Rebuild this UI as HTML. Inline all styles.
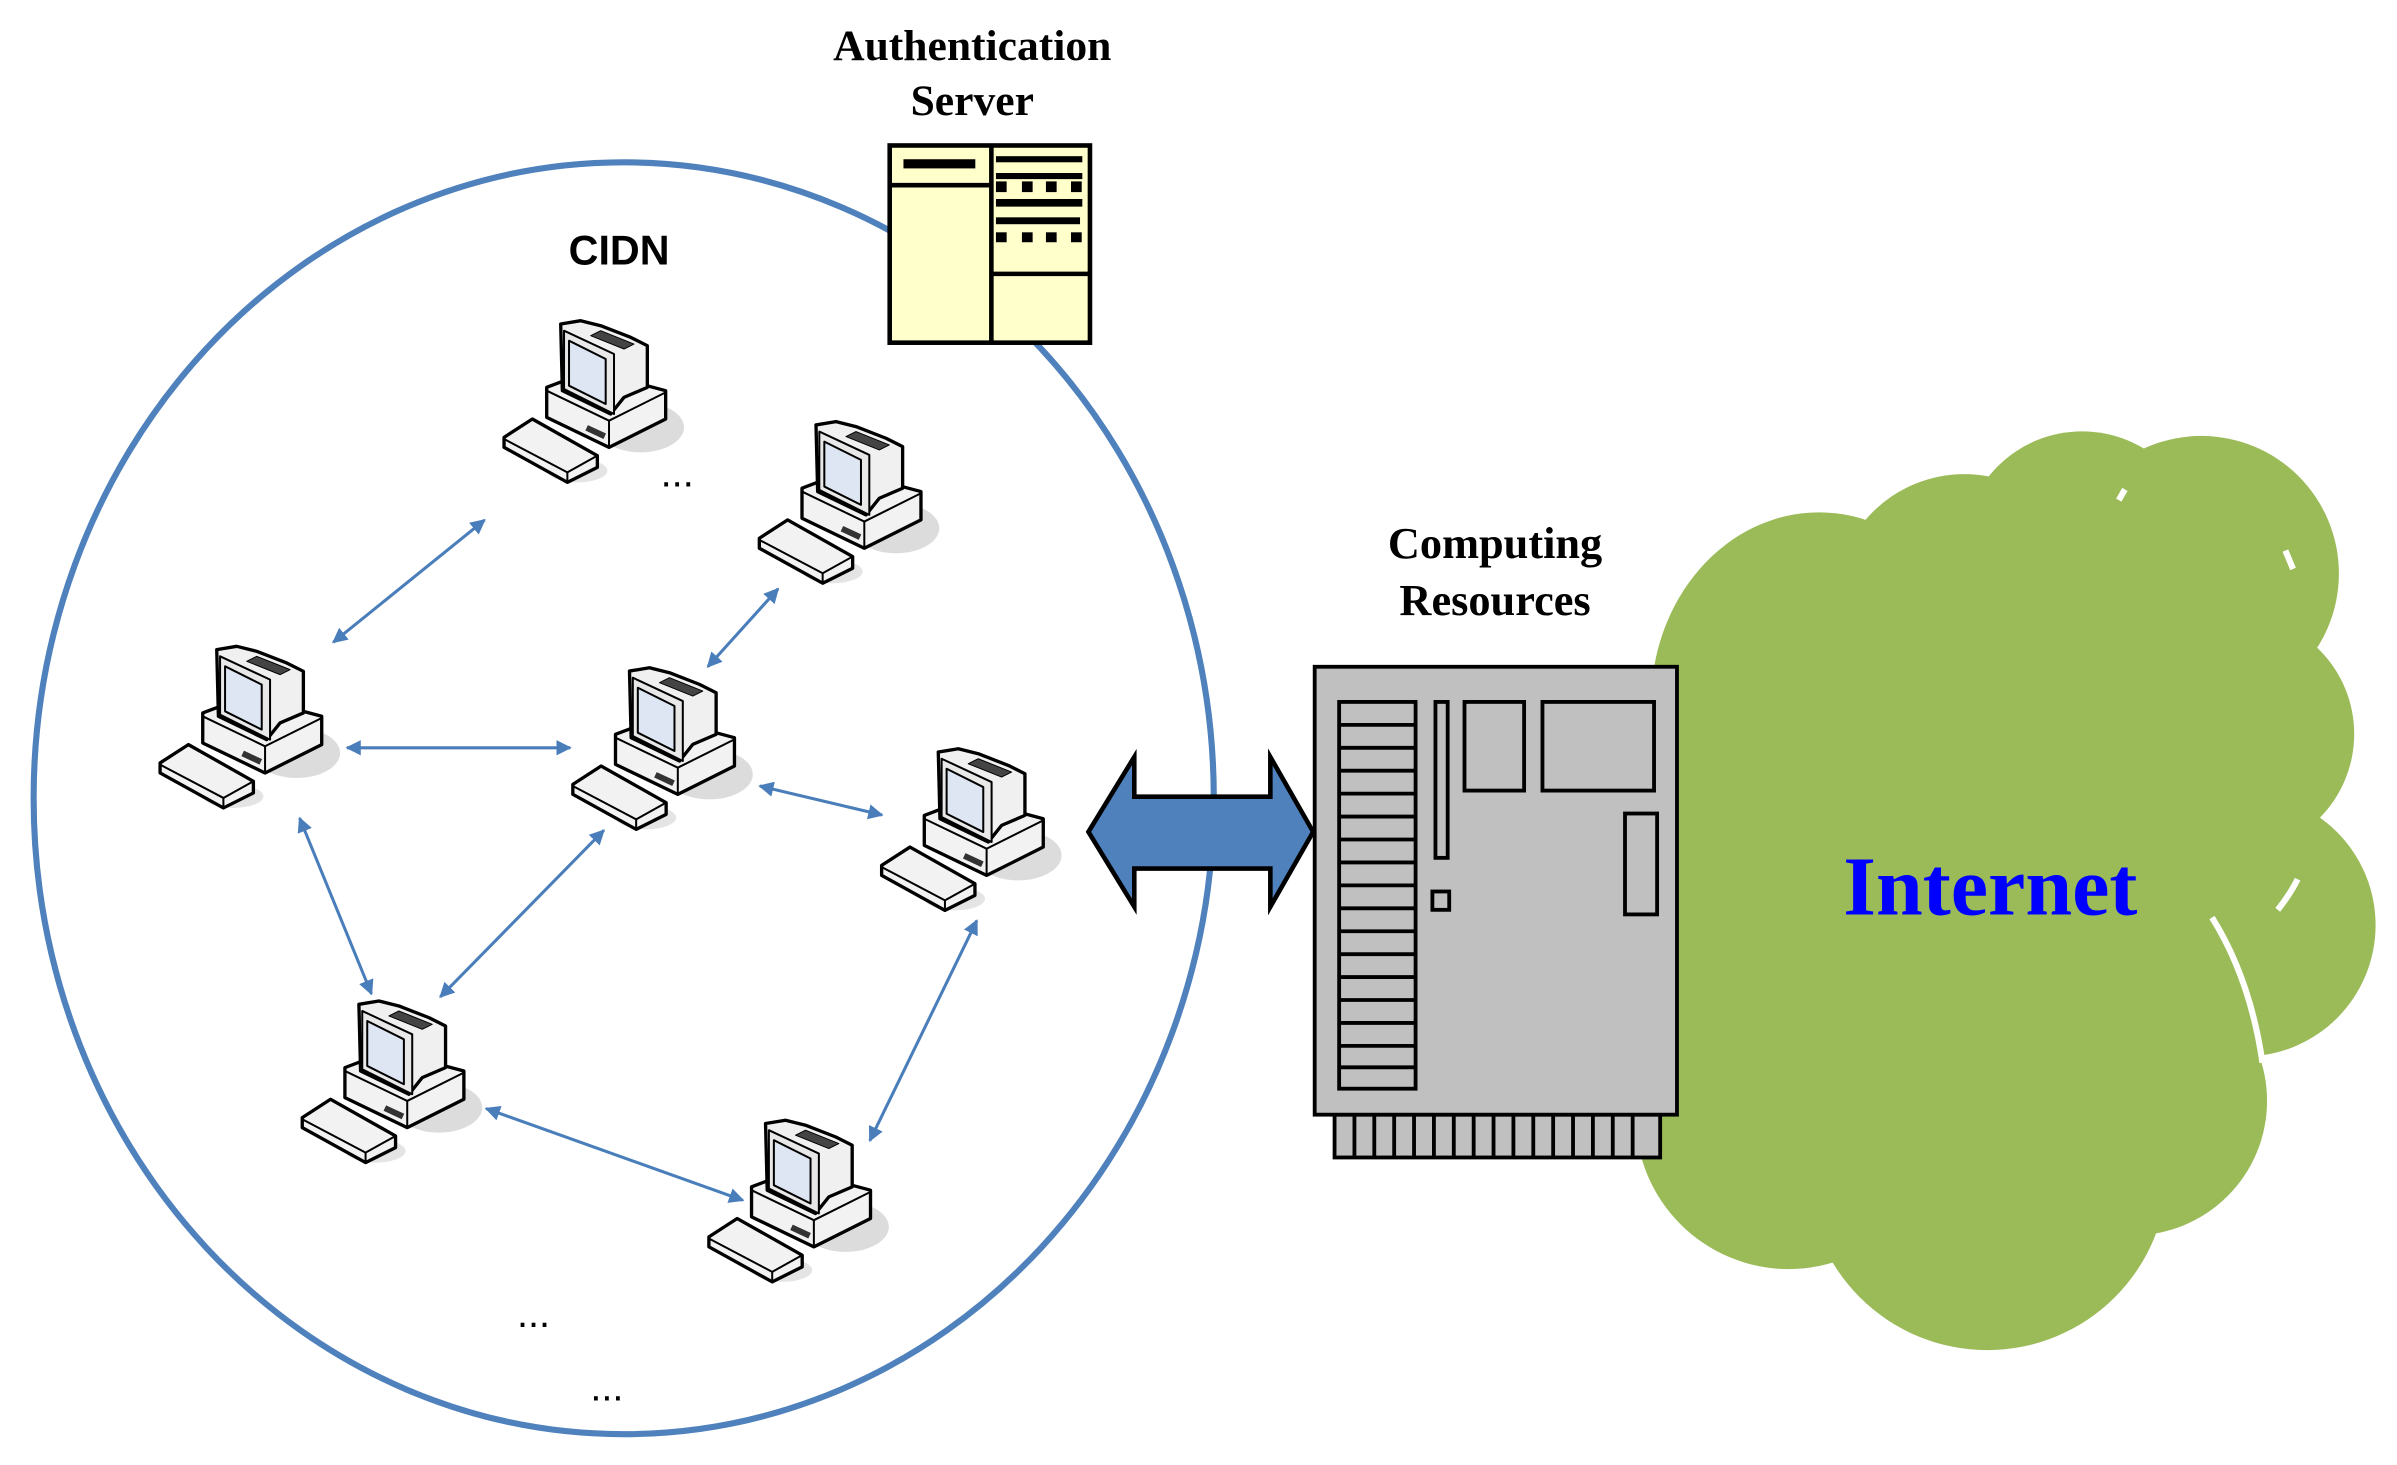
<!DOCTYPE html>
<html><head><meta charset="utf-8"><style>html,body{margin:0;padding:0;background:#fff}svg{display:block}</style></head>
<body>
<svg width="2397" height="1465" viewBox="0 0 1568 958" xmlns="http://www.w3.org/2000/svg">
<defs>
<marker id="ah" viewBox="0 0 10 10" refX="9" refY="5" markerWidth="5" markerHeight="5" orient="auto-start-reverse" markerUnits="strokeWidth">
<path d="M0,0 L10,5 L0,10 z" fill="#4a7ebb"/></marker>
<g id="pc">
<g transform="scale(0.218)" stroke="#000" stroke-width="10" stroke-linejoin="round">
<ellipse cx="450" cy="410" rx="130" ry="75" fill="#dcdcdc" stroke="none"/>
<ellipse cx="260" cy="540" rx="90" ry="35" fill="#e4e4e4" stroke="none"/>
<polygon points="168,290 300,240 525,300 525,385 355,470 168,380" fill="#f2f2f2"/>
<polyline points="168,300 355,390 525,305" fill="none" stroke-width="6"/>
<line x1="355" y1="390" x2="355" y2="470" stroke-width="6"/>
<polygon points="210,100 270,90 330,105 420,140 470,165 470,290 400,320 360,370 215,300" fill="#f0f0f0"/>
<polygon points="220,120 370,190 370,370 220,295" fill="#e8e8e8" stroke-width="6"/>
<polygon points="235,150 345,205 345,340 235,285" fill="#dde6f2" stroke-width="6"/>
<polygon points="330,120 430,160 400,175 300,135" fill="#444" stroke-width="3"/>
<rect x="285" y="415" width="60" height="18" fill="#333" stroke="none" transform="rotate(25 315 424)"/>
<polygon points="40,440 125,385 320,495 320,530 230,575 40,470" fill="#f2f2f2"/>
<polyline points="40,445 230,545 320,495" fill="none" stroke-width="6"/>
<line x1="230" y1="545" x2="230" y2="575" stroke-width="6"/>
</g></g>
</defs>

<ellipse cx="408" cy="522" rx="386" ry="416" fill="none" stroke="#4f81bd" stroke-width="4"/>

<!-- cloud -->
<g fill="#9bbb59">
<ellipse cx="1300" cy="580" rx="200" ry="240"/>
<ellipse cx="1190" cy="460" rx="110" ry="125"/>
<circle cx="1285" cy="395" r="85"/>
<circle cx="1362" cy="360" r="78"/>
<circle cx="1440" cy="375" r="90"/>
<circle cx="1462" cy="480" r="78"/>
<circle cx="1468" cy="605" r="86"/>
<circle cx="1395" cy="720" r="88"/>
<circle cx="1300" cy="765" r="118"/>
<circle cx="1170" cy="730" r="100"/>
<ellipse cx="1140" cy="600" rx="60" ry="160"/>
</g>
<g fill="none" stroke="#fff" stroke-width="4">
<path d="M1447,600 Q1472,640 1480,695"/>
<path d="M1490,595 Q1498,585 1503,575"/>
<path d="M1495,360 L1500,372"/>
<path d="M1386,327 L1390,320"/>
</g>
<text x="1302" y="598" font-family="Liberation Serif, serif" font-weight="bold" font-size="55" fill="#0000ff" text-anchor="middle">Internet</text>

<!-- auth server -->
<g stroke="#000" stroke-width="3" fill="#ffffcc">
<rect x="582" y="95" width="131" height="129"/>
<line x1="648.5" y1="95" x2="648.5" y2="224"/>
<line x1="582" y1="121" x2="648" y2="121"/>
<line x1="649" y1="179" x2="713" y2="179"/>
</g>
<g fill="#000">
<rect x="591" y="104" width="47" height="6"/>
<rect x="651.5" y="102" width="56.5" height="4"/>
<rect x="651.5" y="113" width="56.5" height="4"/>
<rect x="651.5" y="118.5" width="7" height="7"/><rect x="668.5" y="118.5" width="7" height="7"/><rect x="684.2" y="118.5" width="7" height="7"/><rect x="700.6" y="118.5" width="7" height="7"/>
<rect x="651.5" y="130" width="56.5" height="5"/>
<rect x="651.5" y="142" width="55" height="4.5"/>
<rect x="651.5" y="151.8" width="7" height="6.5"/><rect x="668.5" y="151.8" width="7" height="6.5"/><rect x="684.2" y="151.8" width="7" height="6.5"/><rect x="700.6" y="151.8" width="7" height="6.5"/>
</g>
<text font-family="Liberation Serif, serif" font-weight="bold" font-size="28.5" text-anchor="middle"><tspan x="636" y="39">Authentication</tspan><tspan x="636" y="75">Server</tspan></text>
<text x="405" y="173" font-family="Liberation Sans, sans-serif" font-weight="bold" font-size="27" text-anchor="middle">CIDN</text>

<!-- computing resources -->
<text font-family="Liberation Serif, serif" font-weight="bold" font-size="29" text-anchor="middle"><tspan x="978" y="365">Computing</tspan><tspan x="978" y="402">Resources</tspan></text>
<g stroke="#000" stroke-width="2.5" fill="#c0c0c0">
<rect x="873" y="729" width="213" height="28"/>
<path d="M886,729V757M899,729V757M912,729V757M925,729V757M938,729V757M951,729V757M964,729V757M977,729V757M990,729V757M1003,729V757M1016,729V757M1029,729V757M1042,729V757M1055,729V757M1068,729V757"/>
<rect x="860" y="436" width="237" height="293"/>
<rect x="876" y="459" width="50" height="253"/>
<path d="M876,474H926M876,489H926M876,504H926M876,519H926M876,534H926M876,549H926M876,564H926M876,579H926M876,594H926M876,609H926M876,624H926M876,639H926M876,654H926M876,669H926M876,684H926M876,698H926"/>
<rect x="939" y="459" width="8" height="102"/>
<rect x="958" y="459" width="39" height="58"/>
<rect x="1009" y="459" width="73" height="58"/>
<rect x="1063" y="532" width="21" height="66"/>
<rect x="937" y="583" width="11" height="12"/>
</g>

<!-- double arrow -->
<polygon points="712,544 742,495 742,521 831,521 831,495 859,544 831,593 831,568 742,568 742,593" fill="#4f81bd" stroke="#000" stroke-width="3" stroke-linejoin="miter"/>

<!-- connectors -->
<g stroke="#4a7ebb" stroke-width="2" marker-start="url(#ah)" marker-end="url(#ah)">
<line x1="218" y1="420" x2="317" y2="340"/>
<line x1="227" y1="489" x2="373" y2="489"/>
<line x1="463" y1="436" x2="509" y2="385"/>
<line x1="497" y1="514" x2="577" y2="533"/>
<line x1="196" y1="535" x2="243" y2="650"/>
<line x1="288" y1="652" x2="395" y2="543"/>
<line x1="318" y1="725" x2="486" y2="785"/>
<line x1="639" y1="602" x2="569" y2="746"/>
</g>

<use href="#pc" x="96" y="403"/>
<use href="#pc" x="321" y="190"/>
<use href="#pc" x="488" y="256"/>
<use href="#pc" x="366" y="417"/>
<use href="#pc" x="568" y="470"/>
<use href="#pc" x="189" y="635"/>
<use href="#pc" x="455" y="713"/>

<g font-family="Liberation Sans, sans-serif" font-size="26" text-anchor="middle">
<text x="443" y="318">...</text>
<text x="349" y="868">...</text>
<text x="397" y="916">...</text>
</g>
</svg>
</body></html>
